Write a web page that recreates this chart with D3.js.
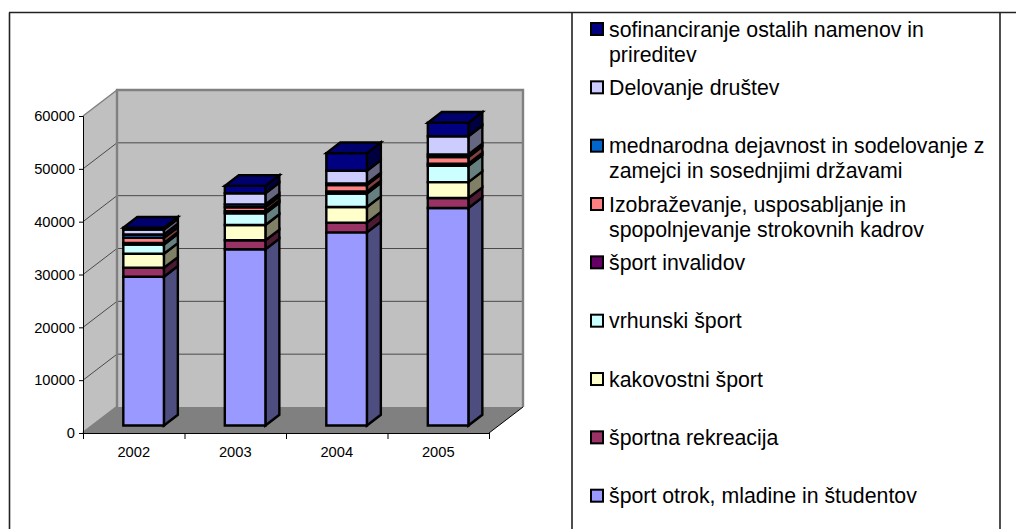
<!DOCTYPE html>
<html>
<head>
<meta charset="utf-8">
<script src="https://cdnjs.cloudflare.com/ajax/libs/d3/7.8.5/d3.min.js"></script>
<style>
html, body { margin: 0; padding: 0; background: #fff; }
svg { display: block; }
text { font-family: "Liberation Sans", Arial, sans-serif; fill: #000; }
</style>
</head>
<body>
<svg width="1016" height="529"></svg>
<script>
// ================= DATA =================
const years = ["2002", "2003", "2004", "2005"];
const yTicks = [0, 10000, 20000, 30000, 40000, 50000, 60000];

const sportOtrok = [28150, 33350, 36550, 41150];
const rekreacija = [1700, 1700, 1850, 1900];
const kakovostni = [2650, 2900, 2950, 3000];
const vrhunski = [1750, 2200, 2550, 3100];
const invalidov = [300, 400, 400, 400];
const izobrazevanje = [950, 750, 1200, 1250];
const mednarodna = [650, 550, 300, 500];
const delovanje = [950, 2100, 2400, 3450];
const sofinanciranje = [350, 1400, 3350, 2550];

const seriesNames = [
  "šport otrok, mladine in študentov",
  "športna rekreacija",
  "kakovostni šport",
  "vrhunski šport",
  "šport invalidov",
  "Izobraževanje, usposabljanje in|spopolnjevanje strokovnih kadrov",
  "mednarodna dejavnost in sodelovanje z|zamejci in sosednjimi državami",
  "Delovanje društev",
  "sofinanciranje ostalih namenov in|prireditev"
];
const seriesValues = [sportOtrok, rekreacija, kakovostni, vrhunski, invalidov,
  izobrazevanje, mednarodna, delovanje, sofinanciranje];
const seriesColors = ["#9999FF", "#993366", "#FFFFCC", "#CCFFFF", "#660066",
  "#FF8080", "#0066CC", "#CCCCFF", "#000080"];

// ================= SCALES =================
const svg = d3.select("svg");
const x = d3.scaleBand().domain(years).range([83, 489]).paddingInner(0.6).paddingOuter(0.3);
const y = d3.scaleLinear().domain([0, 60000]).range([433, 116]);
// depth 0 = front of the box, 1 = back wall
const depthX = d3.scaleLinear().domain([0, 1]).range([0, 34]);
const depthY = d3.scaleLinear().domain([0, 1]).range([0, -26]);
const barFront = 0.29, barBack = 0.7;

const pt = (px, v, d) => [px + depthX(d), y(v) + depthY(d)];
const poly = (g, pts, fill) => g.append("polygon")
  .attr("points", pts.map(p => p.join(",")).join(" "))
  .attr("fill", fill);

// ================= PAGE FRAME =================
const frame = svg.append("g").attr("stroke", "#222").attr("stroke-width", 1.6).attr("fill", "none");
frame.append("line").attr("x1", 9).attr("x2", 1016).attr("y1", 12.5).attr("y2", 12.5);
[9.5, 572, 1000].forEach(fx => {
  frame.append("line").attr("x1", fx).attr("x2", fx).attr("y1", 12.5).attr("y2", 529);
});

// ================= WALLS =================
const xMin = x.range()[0], xMax = x.range()[1];
const walls = svg.append("g");
poly(walls, [pt(xMin, 0, 0), pt(xMin, 60000, 0), pt(xMin, 60000, 1), pt(xMin, 0, 1)], "#C0C0C0");
poly(walls, [pt(xMin, 0, 1), pt(xMin, 60000, 1), pt(xMax, 60000, 1), pt(xMax, 0, 1)], "#C0C0C0");
poly(walls, [pt(xMin, 0, 0), pt(xMin, 0, 1), pt(xMax, 0, 1), pt(xMax, 0, 0)], "#808080");

// gridlines on left wall and back wall
yTicks.slice(1, -1).forEach(v => {
  const a = pt(xMin, v, 0), b = pt(xMin, v, 1), c = pt(xMax, v, 1);
  walls.append("polyline").attr("points", [a, b, c].map(p => p.join(",")).join(" "))
    .attr("fill", "none").attr("stroke", "#4a4a4a").attr("stroke-width", 1);
});
// wall edges
walls.append("polyline")
  .attr("points", [pt(xMin, 0, 0), pt(xMin, 0, 1), pt(xMin, 60000, 1), pt(xMax, 60000, 1), pt(xMax, 0, 1)].map(p => p.join(",")).join(" "))
  .attr("fill", "none").attr("stroke", "#808080").attr("stroke-width", 2.4);
walls.append("line")
  .attr("x1", pt(xMin, 60000, 0)[0]).attr("y1", pt(xMin, 60000, 0)[1])
  .attr("x2", pt(xMin, 60000, 1)[0]).attr("y2", pt(xMin, 60000, 1)[1])
  .attr("stroke", "#808080").attr("stroke-width", 1.5);
walls.append("line")
  .attr("x1", pt(xMax, 0, 0)[0]).attr("y1", pt(xMax, 0, 0)[1])
  .attr("x2", pt(xMax, 0, 1)[0]).attr("y2", pt(xMax, 0, 1)[1])
  .attr("stroke", "#000").attr("stroke-width", 1);

// ================= BARS =================
const bars = svg.append("g").attr("stroke", "#000").attr("stroke-width", 2.4).attr("stroke-linejoin", "miter");
years.forEach((yr, i) => {
  const x0 = x(yr), x1 = x0 + x.bandwidth();
  let base = 0;
  seriesValues.forEach((vals, s) => {
    const top = base + vals[i];
    const col = seriesColors[s];
    poly(bars, [pt(x1, base, barFront), pt(x1, top, barFront), pt(x1, top, barBack), pt(x1, base, barBack)], d3.interpolateRgb(col, "#000")(0.5));
    poly(bars, [pt(x0, base, barFront), pt(x0, top, barFront), pt(x1, top, barFront), pt(x1, base, barFront)], col);
    if (s === seriesValues.length - 1) {
      poly(bars, [pt(x0, top, barFront), pt(x0, top, barBack), pt(x1, top, barBack), pt(x1, top, barFront)], d3.interpolateRgb(col, "#000")(0.15));
    }
    base = top;
  });
});

// ================= AXES =================
const yAxis = svg.append("g").attr("transform", "translate(83,0)")
  .call(d3.axisLeft(y).tickValues(yTicks).tickFormat(d3.format("d")).tickSize(4).tickPadding(4));
const xAxis = svg.append("g").attr("transform", "translate(0,433)")
  .call(d3.axisBottom(d3.scalePoint().domain(d3.range(5)).range([83, 489])).tickSize(6).tickFormat(""));
[yAxis, xAxis].forEach(a => {
  a.selectAll("path,line").attr("stroke", "#000").attr("stroke-width", 1);
  a.selectAll("text").style("font-size", "14.7px").attr("font-family", null).attr("fill", "#000");
});
svg.append("g").selectAll("text").data(years).join("text")
  .attr("x", d => x(d) + x.bandwidth() / 2)
  .attr("y", 457)
  .attr("text-anchor", "middle")
  .style("font-size", "14.7px")
  .text(d => d);

// ================= LEGEND =================
const legendY = d3.scalePoint().domain(d3.range(9)).range([495.7, 29]);
const legend = svg.append("g");
seriesNames.forEach((name, s) => {
  const cy = legendY(s);
  legend.append("rect")
    .attr("x", 591).attr("y", cy - 6).attr("width", 12).attr("height", 12)
    .attr("fill", seriesColors[s]).attr("stroke", "#000").attr("stroke-width", 2);
  name.split("|").forEach((ln, k) => {
    legend.append("text").attr("x", 609).attr("y", cy + 7.5 + k * 25)
      .style("font-size", "21.3px").text(ln);
  });
});
</script>
</body>
</html>
